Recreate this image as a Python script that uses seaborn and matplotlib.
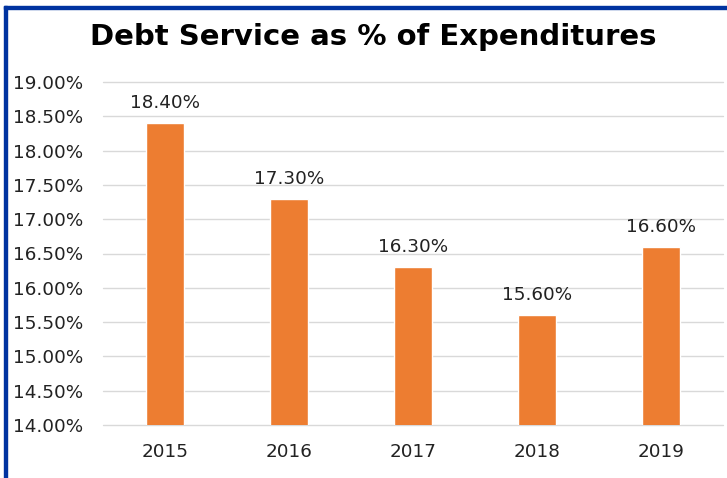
import matplotlib
matplotlib.use("Agg")
import matplotlib.pyplot as plt
from matplotlib.patches import Rectangle
from matplotlib.ticker import FuncFormatter, MultipleLocator
import pandas as pd
import seaborn as sns

years = ["2015", "2016", "2017", "2018", "2019"]
debt_service_pct = [18.40, 17.30, 16.30, 15.60, 16.60]

df = pd.DataFrame({"year": years, "pct": debt_service_pct})

sns.set_theme(style="white")
plt.rcParams["font.family"] = ["DejaVu Sans"]

fig = plt.figure(figsize=(7.27, 4.78), dpi=100)
ax = fig.add_axes([103 / 727, 1 - 425 / 478, 620 / 727, (425 - 82) / 478])

sns.barplot(data=df, x="year", y="pct", color="#ED7D31", width=0.31,
            saturation=1, ax=ax, zorder=3)

ax.set_ylim(14, 19)
ax.set_xlim(-0.5, len(years) - 0.5)
ax.yaxis.set_major_locator(MultipleLocator(0.5))
ax.yaxis.set_major_formatter(FuncFormatter(lambda v, _: f"{v:.2f}%"))
ax.grid(axis="y", color="#d9d9d9", linewidth=1, zorder=0)
ax.set_axisbelow(True)
for line in ax.get_ygridlines():
    line.set_clip_on(False)
for s in ax.spines.values():
    s.set_visible(False)
ax.set_xlabel("")
ax.set_ylabel("")
ax.tick_params(axis="both", length=0, labelsize=13.2, colors="#222222")
ax.tick_params(axis="y", pad=14)
ax.tick_params(axis="x", pad=13)

for bar, v in zip(ax.patches, debt_service_pct):
    ax.annotate(f"{v:.2f}%", (bar.get_x() + bar.get_width() / 2, v),
                xytext=(0, 8), textcoords="offset points",
                ha="center", va="bottom", fontsize=13.2, color="#222222")

fig.text(373 / 727, 1 - 37 / 478, "Debt Service as % of Expenditures",
         ha="center", va="center", fontsize=21, fontweight="bold", color="black")

# frame edges
fig.patches.append(Rectangle((4 / 727, 0), 3 / 727, 1 - 6 / 478,
                             transform=fig.transFigure, color="#0033a0", zorder=10))
fig.patches.append(Rectangle((4 / 727, 1 - 9 / 478), 1 - 4 / 727, 3 / 478,
                             transform=fig.transFigure, color="#0033a0", zorder=10))

fig.savefig("out.png", dpi=100)
